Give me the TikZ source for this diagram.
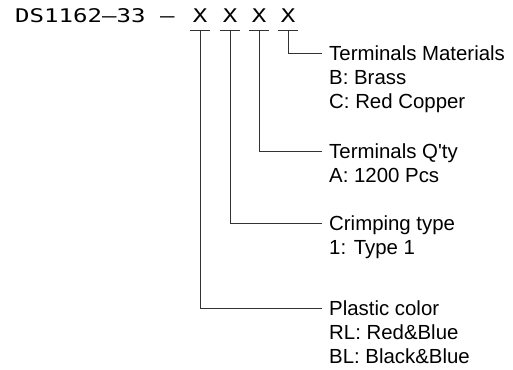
\documentclass[tikz,border=0pt]{standalone}
\usepackage{fontspec}
\setmainfont{Liberation Sans}
\newfontfamily\hdrfont[FakeStretch=1.28]{DejaVu Sans Mono}
\font\qapos="Liberation Sans" at 20.4pt
\begin{document}
\begin{tikzpicture}[x=1pt,y=-1pt,
  conn/.style={draw=black!80, line width=0.9pt},
  hdr/.style={font=\hdrfont\fontsize{18.8}{20}\selectfont, inner sep=0pt, anchor=base west},
  xmark/.style={font=\hdrfont\fontsize{18.8}{20}\selectfont, inner xsep=0pt, inner ysep=7.3pt,
    minimum width=20pt, anchor=base, text depth=0pt},
  title/.style={font=\fontsize{20.4}{24}\selectfont, anchor=base west, inner xsep=7pt,
    inner ysep=0pt, text height=14.6pt, text depth=0pt},
  body/.style={font=\fontsize{20.4}{24}\selectfont, anchor=base west, inner sep=0pt}]
\useasboundingbox (0,0) rectangle (513,369);
% header
\node[hdr] (pn) at (15,22.7) {DS1162–33 –};
\node[xmark] (x1) at (200,22.7) {X};
\node[xmark] (x2) at (230,22.7) {X};
\node[xmark] (x3) at (259,22.7) {X};
\node[xmark] (x4) at (288,22.7) {X};
\foreach \i in {1,...,4} {\draw[conn] (x\i.south west) -- (x\i.south east);}
% descriptions
\node[title] (t4) at (322,60.3) {Terminals Materials};
\node[body] (b4a) at (329,84.1) {B: Brass};
\node[body] (b4b) at (329,108.1) {C: Red Copper};
\node[title] (t3) at (322,158.3) {Terminals Q{\qapos'}ty};
\node[body] (b3a) at (329,182.1) {A: 1200 Pcs};
\node[title] (t2) at (322,230.3) {Crimping type};
\node[body] (b2a) at (329,254.1) {1: Type 1};
\node[title] (t1) at (322,315.3) {Plastic color};
\node[body] (b1a) at (329,339.1) {RL: Red\&Blue};
\node[body] (b1b) at (329,363.1) {BL: Black\&Blue};
% connectors
\draw[conn] (x4.south) |- (t4.west);
\draw[conn] (x3.south) |- (t3.west);
\draw[conn] (x2.south) |- (t2.west);
\draw[conn] (x1.south) |- (t1.west);
\end{tikzpicture}
\end{document}
